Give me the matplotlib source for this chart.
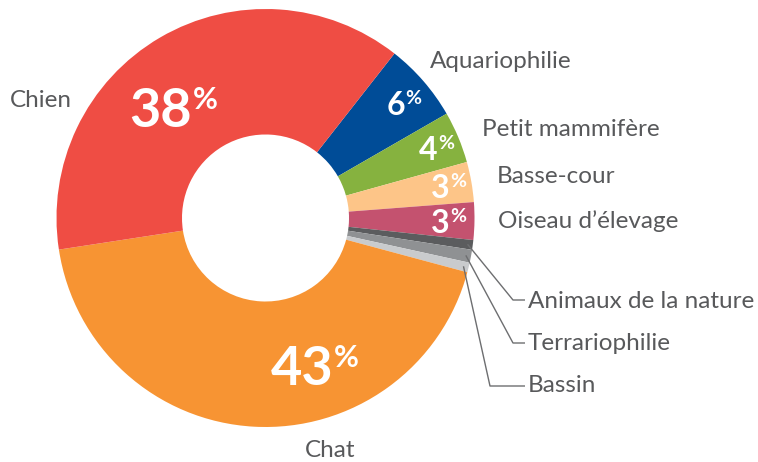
import numpy as np
import matplotlib
matplotlib.use("Agg")
import matplotlib.pyplot as plt

# ---- data ----
categories = ["Aquariophilie", "Petit mammifère", "Basse-cour", "Oiseau d\u2019élevage",
              "Animaux de la nature", "Terrariophilie", "Bassin", "Chat", "Chien"]
shares = [6.1, 4.0, 3.1, 2.9, 0.75, 1.0, 0.75, 43.4, 38.0]
pct_labels = ["6", "4", "3", "3", "", "", "", "43", "38"]
colors = ["#004C97", "#86B23F", "#FDC588", "#C4526F", "#5B5C5E", "#8F9193",
          "#C9CBCD", "#F79433", "#EF4D44"]

W, H = 758, 462
TXT = "#58595B"
FONT = ["Lato", "DejaVu Sans"]

fig = plt.figure(figsize=(W / 100, H / 100), dpi=100)
ax = fig.add_axes([0, 0, 1, 1])

def Y(py):
    return H - py

cx, cy = 265.5, 218.0
R, hole = 209.0, 83.5
start = 51.9

wedges, _ = ax.pie(shares, colors=colors, startangle=start, counterclock=False,
                   center=(cx, Y(cy)), radius=R,
                   wedgeprops=dict(width=R - hole, linewidth=0))
ax.set_xlim(0, W)
ax.set_ylim(0, H)
ax.set_aspect("equal")
ax.axis("off")

# ---- percent labels (pixel layout) ----
# (digit right edge x, digit baseline y, digit size, percent size)
pct_pos = {
    0: (405, 115, 23, 14),
    1: (438, 160, 23, 14),
    2: (450, 198, 23, 14),
    3: (450, 233, 23, 14),
    7: (333, 385, 39, 22),
    8: (192, 127, 39, 22),
}
for i, (xr, yb, fs, ps) in pct_pos.items():
    ax.text(xr, Y(yb), pct_labels[i], color="white", fontsize=fs,
            ha="right", va="baseline", family=FONT, fontweight="bold")
    top = yb - fs * 1.389 * 0.72
    ax.text(xr + 0.5, Y(top - 2), "%", color="white", fontsize=ps,
            ha="left", va="top", family=FONT, fontweight="bold")

# ---- category labels ----
FS = 17.5
ax.text(10, Y(107), categories[8], color=TXT, fontsize=FS, ha="left", va="baseline", family=FONT)
ax.text(330, Y(457), categories[7], color=TXT, fontsize=FS, ha="center", va="baseline", family=FONT)
ax.text(430, Y(68), categories[0], color=TXT, fontsize=FS, ha="left", va="baseline", family=FONT)
ax.text(482, Y(136), categories[1], color=TXT, fontsize=FS, ha="left", va="baseline", family=FONT)
ax.text(497, Y(183), categories[2], color=TXT, fontsize=FS, ha="left", va="baseline", family=FONT)
ax.text(498, Y(228), categories[3], color=TXT, fontsize=FS, ha="left", va="baseline", family=FONT)

# ---- leader lines for small slices ----
leaders = {4: (513, 300, 308), 5: (513, 343, 350), 6: (490, 386, 392)}
for i, (ex, ey, yb) in leaders.items():
    w = wedges[i]
    mid = np.deg2rad((w.theta1 + w.theta2) / 2)
    sx = cx + 0.975 * R * np.cos(mid)
    sy = Y(cy) + 0.975 * R * np.sin(mid)
    ax.plot([sx, ex, 525], [sy, Y(ey), Y(ey)], color="#6D6E70", lw=1.0,
            solid_capstyle="butt")
    ax.text(528, Y(yb), categories[i], color=TXT, fontsize=FS, ha="left",
            va="baseline", family=FONT)

fig.savefig("out.png", dpi=100)
